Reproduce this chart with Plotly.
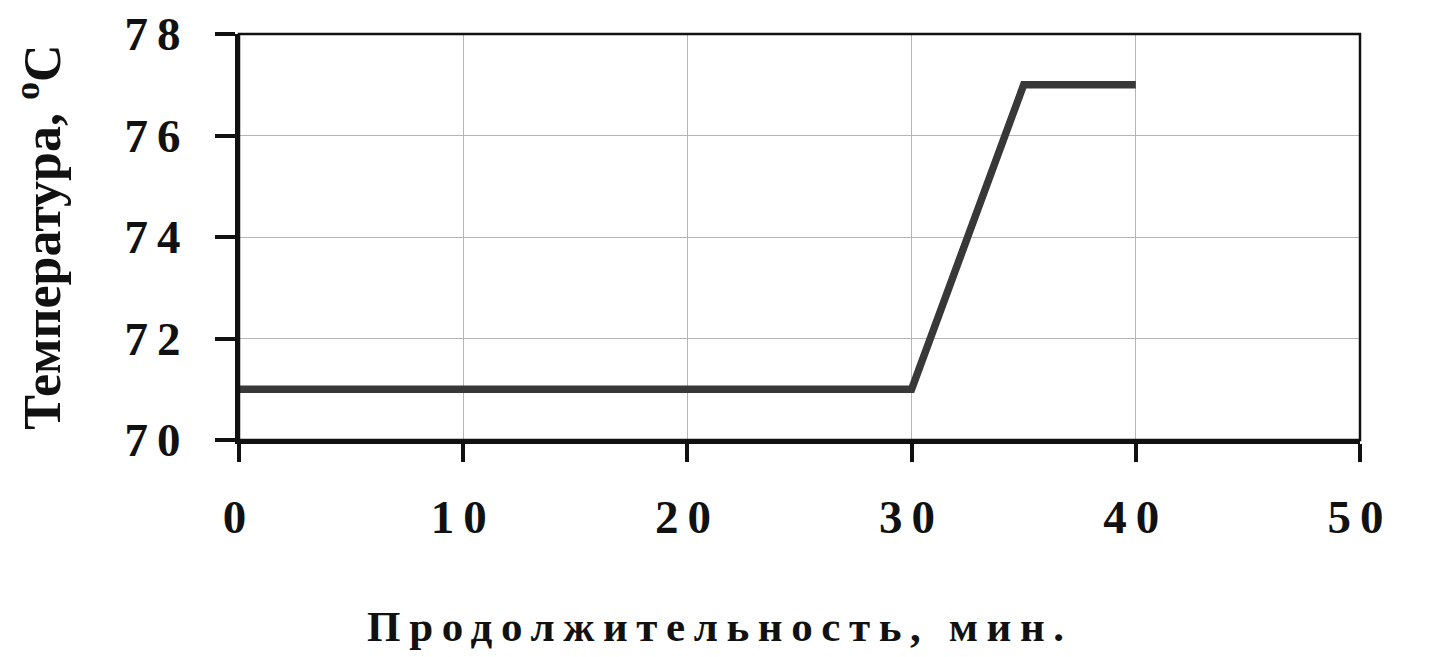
import plotly.graph_objects as go

# Data
time_min = [0, 30, 35, 40]
temperature_c = [71, 71, 77, 77]
x_ticks = [0, 10, 20, 30, 40, 50]
y_ticks = [70, 72, 74, 76, 78]
x_title = "Продолжительность, мин."
y_title = "Температура, <sup>o</sup>C"

FONT = "Liberation Serif"

fig = go.Figure()
fig.add_trace(go.Scatter(
    x=time_min, y=temperature_c, mode="lines",
    line=dict(color="#383838", width=7.5),
    showlegend=False, hoverinfo="skip",
))

fig.update_layout(
    width=1439, height=657,
    margin=dict(l=239, r=79, t=34, b=217, autoexpand=False),
    paper_bgcolor="white", plot_bgcolor="white",
    font=dict(family=FONT, color="#111", size=46, weight="bold"),
    showlegend=False,
)

fig.update_xaxes(
    range=[0, 50], tickvals=x_ticks, ticktext=[str(v) for v in x_ticks],
    showline=True, linecolor="#111", linewidth=4,
    ticks="outside", ticklen=18, tickwidth=4, tickcolor="#111",
    showgrid=True, gridcolor="#b5b5b5", gridwidth=1,
    zeroline=False, automargin=False,
    tickfont=dict(family=FONT, size=47, weight="bold", color="#111"),
    ticklabelstandoff=15,
)
fig.update_yaxes(
    range=[70, 78], tickvals=y_ticks, ticktext=[str(v) for v in y_ticks],
    showline=True, linecolor="#111", linewidth=4,
    ticks="outside", ticklen=20, tickwidth=4, tickcolor="#111",
    showgrid=True, gridcolor="#b5b5b5", gridwidth=1,
    zeroline=False, automargin=False,
    tickfont=dict(family=FONT, size=47, weight="bold", color="#111"),
    ticklabelstandoff=16,
    title=dict(text=y_title, standoff=66,
               font=dict(family=FONT, size=52, weight="bold", color="#111")),
)

# frame (top / right border)
fig.add_shape(type="rect", xref="paper", yref="paper", x0=0, x1=1, y0=0, y1=1,
              line=dict(color="#111", width=2.5), layer="above")

fig.add_annotation(
    text=x_title, xref="paper", yref="paper", x=0.429, y=-0.46,
    xanchor="center", yanchor="middle", showarrow=False,
    font=dict(family=FONT, size=43, weight="bold", color="#111"),
)

post = """
var s=document.createElement('style');
s.innerHTML='body{margin:0;} .xtick text, .ytick text{letter-spacing:9px;} .annotation-text{letter-spacing:8.6px;}';
document.head.appendChild(s);
"""
fig.write_html("out.html", post_script=post, config={"displayModeBar": False})
